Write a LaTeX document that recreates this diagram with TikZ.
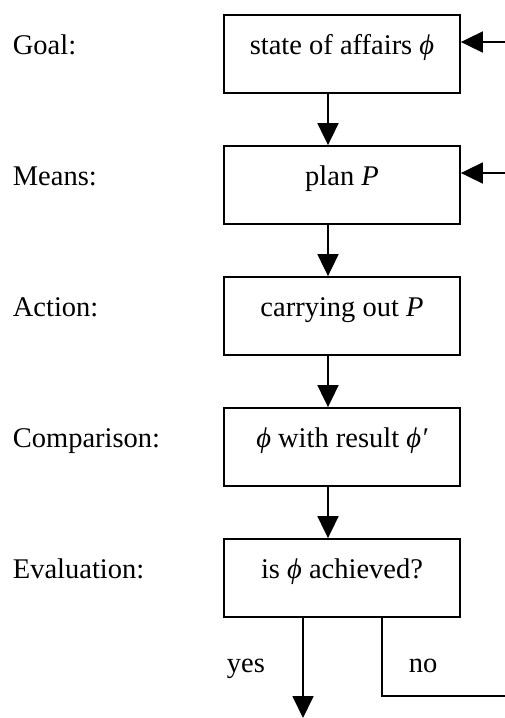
\documentclass[tikz,border=0pt]{standalone}
\usepackage{fontspec}
\setmainfont{Liberation Serif}
\usetikzlibrary{arrows.meta}

\newcommand{\ph}{\textit{ϕ}}

\begin{document}
\begin{tikzpicture}[x=1pt, y=-1pt, line width=1.8pt,
    font=\fontsize{28.5}{34}\selectfont,
    box/.style={draw, rectangle, minimum width=236pt, minimum height=78pt,
        text height=20pt, text depth=20pt, inner sep=0pt},
    lbl/.style={anchor=base west, inner sep=0pt},
    arr/.style={-{Triangle[length=22pt, width=21pt]}}]
    \useasboundingbox (0,0) rectangle (505,718);

    % stages
    \node[box] (Goal) at (342,54) {state of affairs \ph};
    \node[box] (Means) at (342,185) {plan \textit{P}};
    \node[box] (Action) at (342,316) {carrying out \textit{P}};
    \node[box] (Compar) at (342,447) {\ph{} with result \ph\textit{\char"2032}};
    \node[box] (Eval) at (342,578) {is \ph{} achieved?};

    % stage names
    \node[lbl] (GoalL) at (12,54) {Goal:};
    \node[lbl] (MeansL) at (12,185) {Means:};
    \node[lbl] (ActionL) at (12,316) {Action:};
    \node[lbl] (ComparL) at (12,447) {Comparison:};
    \node[lbl] (EvalL) at (12,578) {Evaluation:};

    \draw[arr] ([xshift=-14pt]Goal.south) -- ([xshift=-14pt]Means.north);
    \draw[arr] ([xshift=-14pt]Means.south) -- ([xshift=-14pt]Action.north);
    \draw[arr] ([xshift=-14pt]Action.south) -- ([xshift=-14pt]Compar.north);
    \draw[arr] ([xshift=-14pt]Compar.south) -- ([xshift=-14pt]Eval.north);

    % feedback inputs
    \coordinate (in1) at (505,42);
    \coordinate (in2) at (505,173);
    \draw[arr] (in1) -- (Goal.east |- in1);
    \draw[arr] (in2) -- (Means.east |- in2);

    % outcome
    \coordinate (out) at (303,718);
    \coordinate (noturn) at (382,696);
    \coordinate (back) at (505,696);
    \draw[arr] (Eval.south -| out) -- (out);
    \draw (Eval.south -| noturn) -- (noturn) -- (back);
    \node[lbl] (yes) at (226,672) {yes};
    \node[lbl] (no) at (408,672) {no};
\end{tikzpicture}
\end{document}
